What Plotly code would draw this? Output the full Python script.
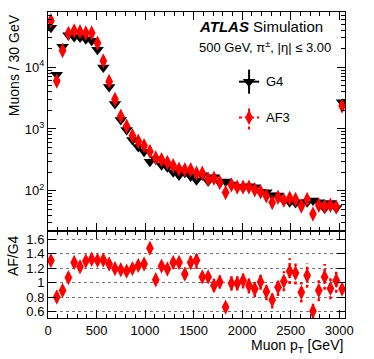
import plotly.graph_objects as go

# bin centres (60 GeV bins, last one is the overflow bin)
pt_centres = [30 + 60 * i for i in range(51)]

g4 = [44000, 7600, 21500, 33000, 31000, 30500, 28500, 27000, 19300, 9900,
      4800, 2550, 1400, 960, 660, 510, 425, 295, 325, 258,
      240, 198, 175, 194, 170, 147, 178, 142, 165, 134,
      140, 125, 115, 111, 118, 113, 95, 94, 84, 83,
      69, 65, 63, 65, 65, 69, 65, 51, 63, 52, 2700]

af3 = [57000, 6000, 18700, 35500, 39000, 37700, 36000, 36000, 24700, 12700,
       5900, 3020, 1610, 1107, 780, 630, 536, 432, 337, 316,
       286, 253, 223, 218, 218, 192, 192, 153, 159, 135,
       93, 124, 114, 114, 114, 103, 96, 82, 64, 78,
       70, 75, 72, 56, 72, 41.7, 58, 55, 58, 54, 2350]

ratio = [1.307, 0.80, 0.89, 1.07, 1.28, 1.22, 1.30, 1.325, 1.31, 1.315,
         1.26, 1.195, 1.18, 1.16, 1.195, 1.24, 1.26, 1.48, 1.04, 1.23,
         1.19, 1.28, 1.28, 1.12, 1.28, 1.31, 1.08, 1.08, 0.96, 1.01,
         0.66, 0.99, 0.99, 1.03, 0.96, 0.91, 1.01, 0.875, 0.76, 0.935,
         1.02, 1.16, 1.135, 0.865, 1.10, 0.605, 0.89, 1.08, 0.92, 1.03, 0.91]

ratio_err = [0.01, 0.01, 0.01, 0.01, 0.015, 0.015, 0.015, 0.015, 0.02, 0.02,
             0.025, 0.03, 0.03, 0.035, 0.04, 0.04, 0.045, 0.08, 0.05, 0.06,
             0.06, 0.08, 0.08, 0.08, 0.09, 0.12, 0.08, 0.08, 0.09, 0.09,
             0.07, 0.10, 0.10, 0.11, 0.11, 0.11, 0.11, 0.12, 0.12, 0.12,
             0.14, 0.18, 0.16, 0.14, 0.17, 0.10, 0.15, 0.18, 0.15, 0.17, 0.03]

FONT = "Liberation Sans, Arial, sans-serif"
RED = "#ff0000"

fig = go.Figure()

# main panel
fig.add_trace(go.Scatter(x=pt_centres, y=g4, mode="markers", xaxis="x", yaxis="y",
                         marker=dict(symbol="triangle-down", size=11, color="black"),
                         showlegend=False))
fig.add_trace(go.Scatter(x=pt_centres, y=af3, mode="markers", xaxis="x", yaxis="y",
                         marker=dict(symbol="diamond-tall", size=11, color=RED),
                         showlegend=False))

# ratio panel: dotted error bars, then markers
ex, ey = [], []
for x, r, e in zip(pt_centres, ratio, ratio_err):
    ex += [x, x, None]
    ey += [r - e, r + e, None]
fig.add_trace(go.Scatter(x=ex, y=ey, mode="lines", xaxis="x2", yaxis="y2",
                         line=dict(color=RED, width=2.5, dash="dot"),
                         showlegend=False, hoverinfo="skip"))
fig.add_trace(go.Scatter(x=pt_centres, y=ratio, mode="markers", xaxis="x2", yaxis="y2",
                         marker=dict(symbol="diamond-tall", size=11, color=RED),
                         showlegend=False))

# hand-made legend on an overlay axis (0..1 box of the main panel)
leg_x = 0.677
for ly, col, dash, sym in [(0.682, "black", "solid", "triangle-down"),
                           (0.519, RED, "dot", "diamond-tall")]:
    fig.add_trace(go.Scatter(x=[leg_x - 0.034, leg_x + 0.034, None, leg_x, leg_x],
                             y=[ly, ly, None, ly - 0.055, ly + 0.055],
                             mode="lines", xaxis="x3", yaxis="y3",
                             line=dict(color=col, width=2, dash=dash),
                             showlegend=False, hoverinfo="skip"))
    fig.add_trace(go.Scatter(x=[leg_x], y=[ly], mode="markers", xaxis="x3", yaxis="y3",
                             marker=dict(symbol=sym, size=11, color=col),
                             showlegend=False))

tickfont = dict(family=FONT, size=13, color="black")
common = dict(showline=True, linecolor="black", linewidth=1, mirror="allticks",
              ticks="inside", tickcolor="black", zeroline=False, showgrid=False)

fig.update_layout(
    width=374, height=359,
    margin=dict(l=48, r=29, t=12, b=41),
    paper_bgcolor="white", plot_bgcolor="white",
    font=dict(family=FONT, size=13, color="black"),
    xaxis=dict(domain=[0, 1], anchor="y", range=[0, 3060], dtick=500, tick0=0,
               ticklen=8, showticklabels=False,
               minor=dict(ticks="inside", ticklen=4, dtick=100, tickcolor="black"),
               **common),
    yaxis=dict(domain=[0.284, 1], anchor="x", type="log", range=[1.343, 4.897],
               tickvals=[100, 1000, 10000],
               ticktext=["10<sup>2</sup>", "10<sup>3</sup>", "10<sup>4</sup>"],
               ticklen=8, tickfont=tickfont,
               minor=dict(ticks="inside", ticklen=4, dtick="D1", tickcolor="black"),
               **common),
    xaxis2=dict(domain=[0, 1], anchor="y2", range=[0, 3060], dtick=500, tick0=0,
                ticklen=8, tickfont=tickfont,
                minor=dict(ticks="inside", ticklen=4, dtick=100, tickcolor="black"),
                **common),
    yaxis2=dict(domain=[0, 0.284], anchor="x2", range=[0.508, 1.717],
                tickvals=[0.6, 0.8, 1.0, 1.2, 1.4, 1.6],
                ticktext=["0.6", "0.8", "1", "1.2", "1.4", "1.6"],
                ticklen=8, tickfont=tickfont,
                showline=True, linecolor="black", linewidth=1, mirror="allticks",
                ticks="inside", tickcolor="black", zeroline=False,
                showgrid=True, griddash="dot", gridcolor="#777", gridwidth=1),
    xaxis3=dict(overlaying="x", anchor="y3", range=[0, 1], visible=False),
    yaxis3=dict(overlaying="y", anchor="x3", range=[0, 1], visible=False),
)

annotations = [
    dict(text="<b><i>ATLAS</i></b> Simulation", x=0.502, y=0.954, xref="paper", yref="paper",
         xanchor="left", yanchor="middle", showarrow=False,
         font=dict(family=FONT, size=15, color="black")),
    dict(text="500 GeV, π<sup>±</sup>, |η| ≤ 3.00", x=0.502, y=0.886, xref="paper", yref="paper",
         xanchor="left", yanchor="middle", showarrow=False,
         font=dict(family=FONT, size=13, color="black")),
    dict(text="G4", x=0.727, y=0.682, xref="x3", yref="y3", xanchor="left", yanchor="middle",
         showarrow=False, font=dict(family=FONT, size=13, color="black")),
    dict(text="AF3", x=0.727, y=0.519, xref="x3", yref="y3", xanchor="left", yanchor="middle",
         showarrow=False, font=dict(family=FONT, size=13, color="black")),
    dict(text="Muons / 30 GeV", textangle=-90, x=-0.114, y=1.0, xref="paper", yref="paper",
         xanchor="center", yanchor="top", showarrow=False,
         font=dict(family=FONT, size=14, color="black")),
    dict(text="AF/G4", textangle=-90, x=-0.118, y=0.279, xref="paper", yref="paper",
         xanchor="center", yanchor="top", showarrow=False,
         font=dict(family=FONT, size=14, color="black")),
    dict(text="Muon p<sub>T</sub> [GeV]", x=1.0, y=-0.09, xref="paper", yref="paper",
         xanchor="right", yanchor="middle", showarrow=False,
         font=dict(family=FONT, size=14, color="black")),
]
fig.update_layout(annotations=annotations)

fig.write_html("out.html", config={"displayModeBar": False},
               post_script="document.body.style.margin='0';")
